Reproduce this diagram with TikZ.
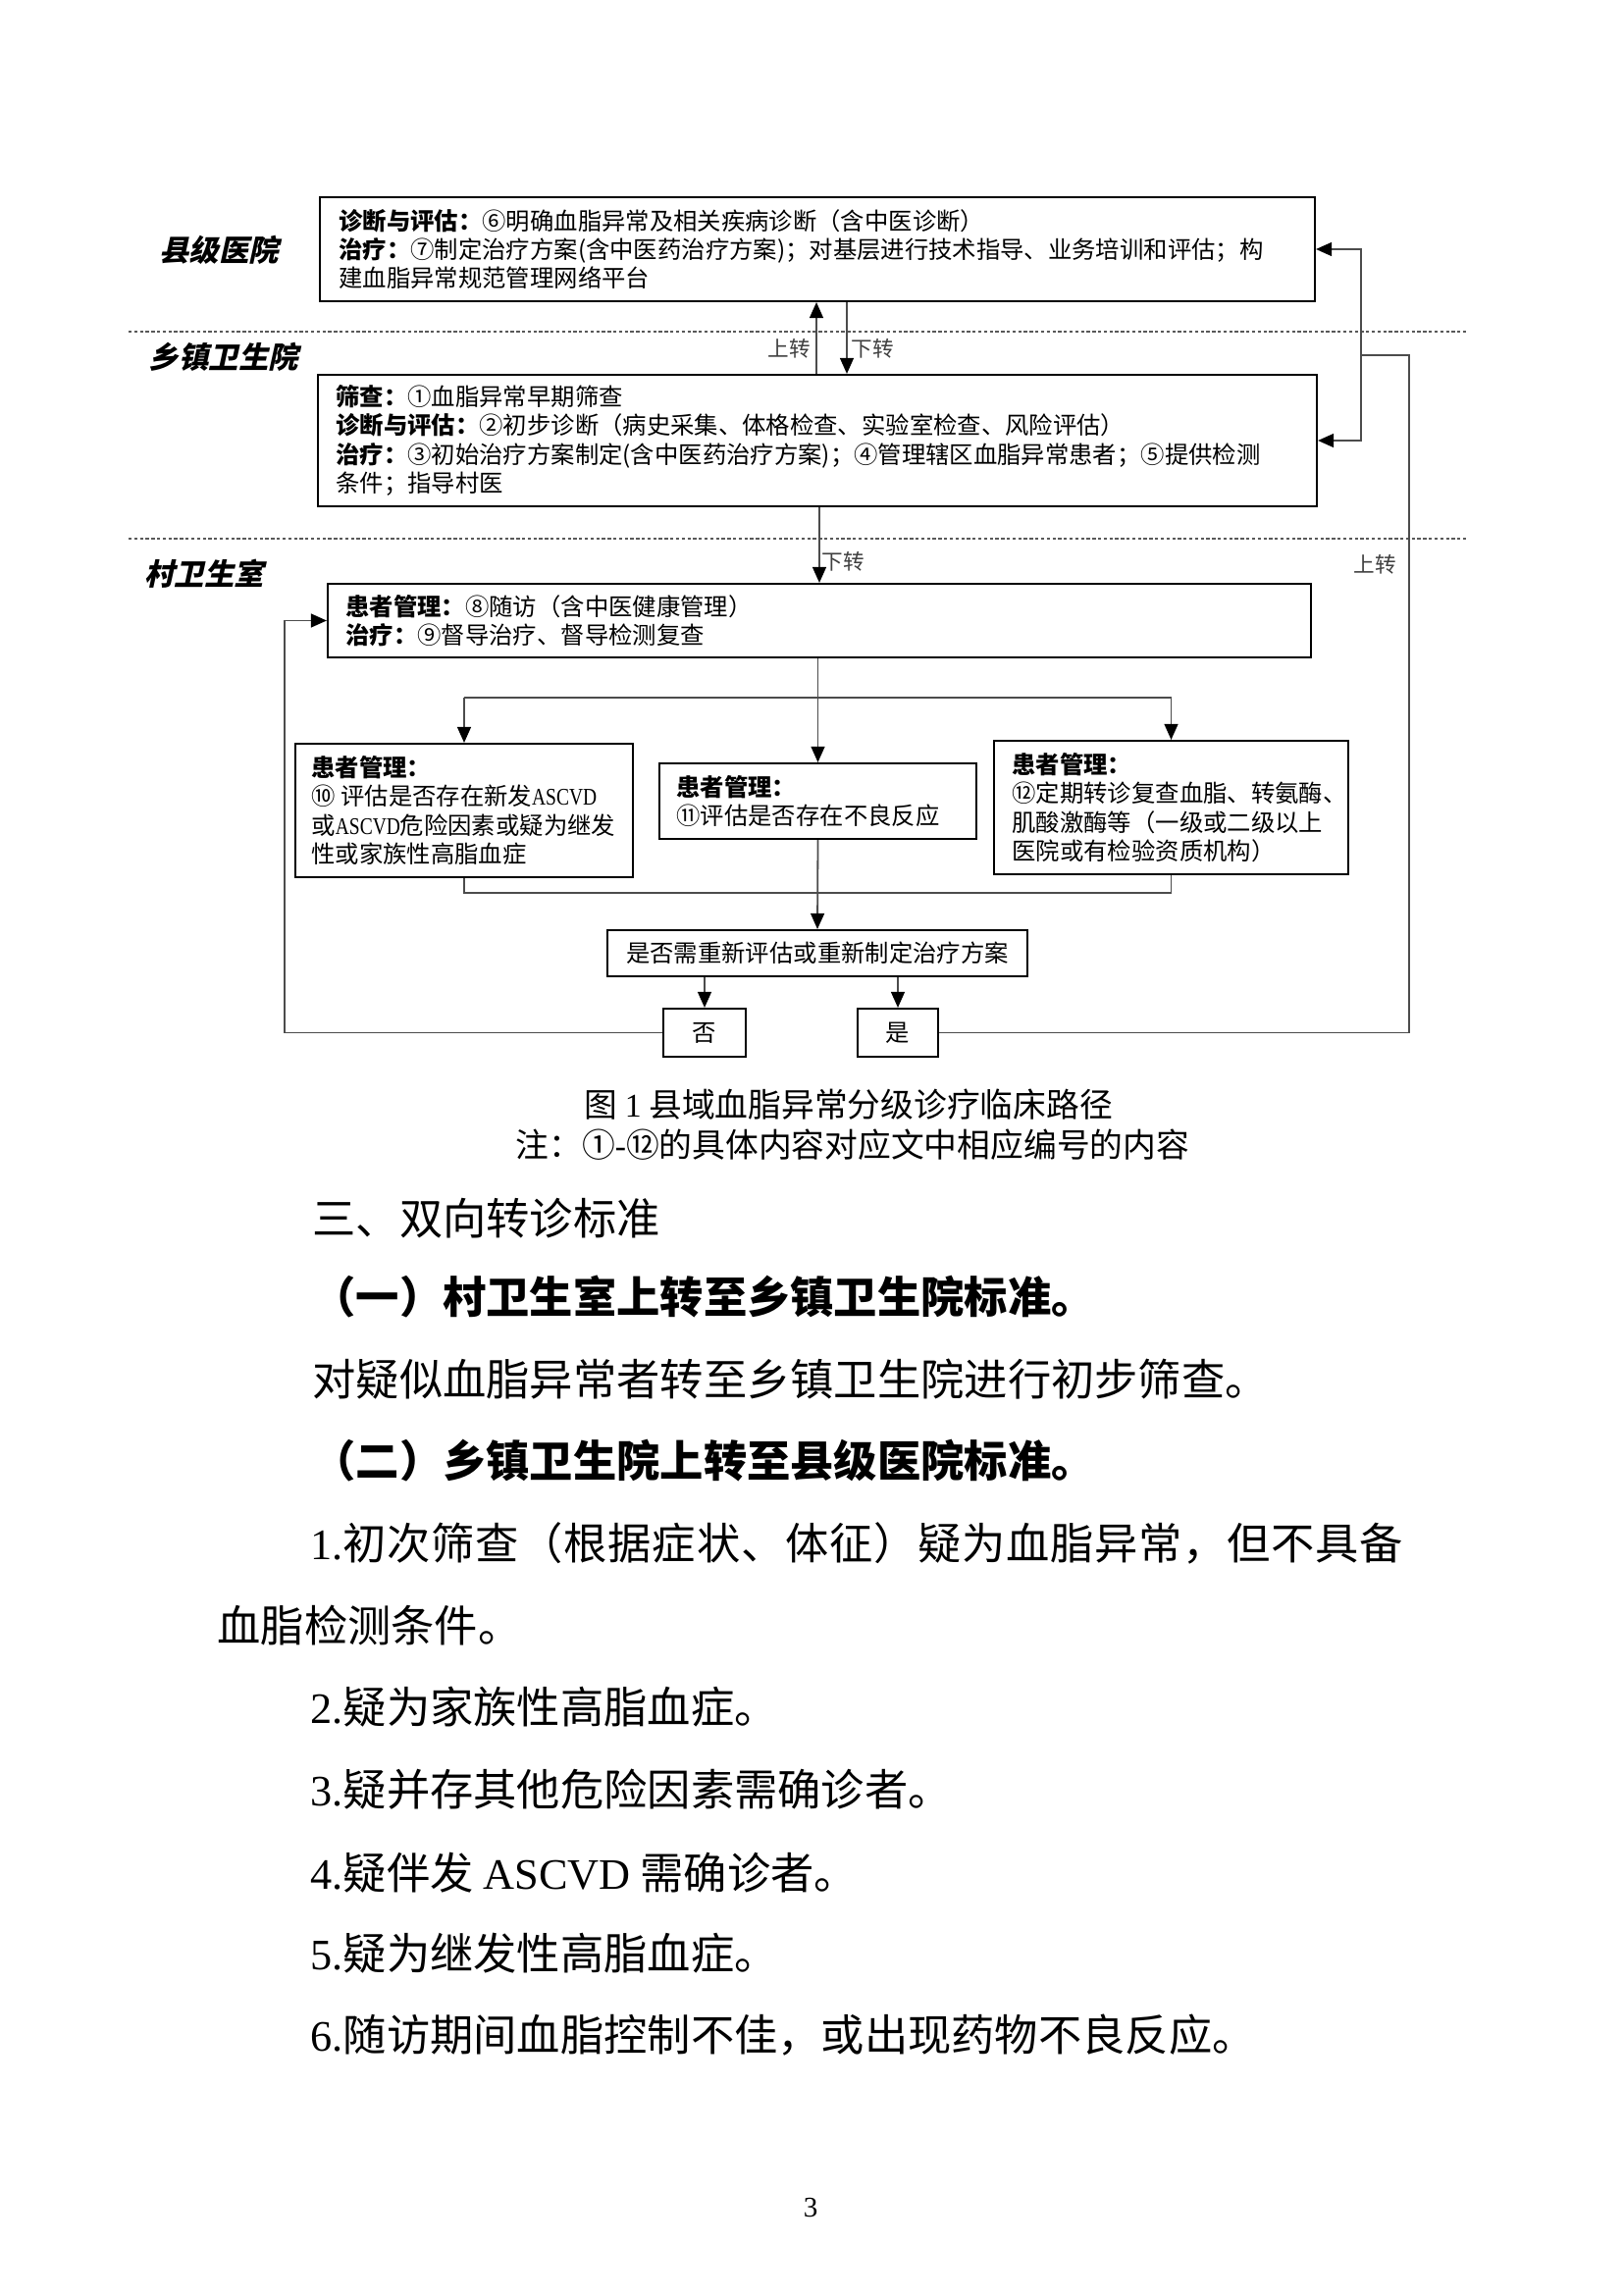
\documentclass[tikz,border=0pt]{standalone}
\usepackage{fontspec}
\usepackage{graphicx}
\setmainfont{Liberation Serif}
\newfontfamily\cjk{Noto Sans CJK SC}
\newfontfamily\cjksl{Noto Sans CJK SC}[FakeSlant=0.22]
\newfontfamily\latf{Liberation Serif}
\usetikzlibrary{arrows.meta}
\def\px{0.127mm}
\tikzset{
  box/.style={draw=black, line width=0.75pt, inner sep=0pt},
  cbox/.style={box, font=\cjk\fontsize{8.8pt}{10.6pt}\selectfont},
  boxtext/.style={anchor=west, align=left, inner sep=0pt, font=\cjk\fontsize{8.8pt}{10.6pt}\selectfont},
  conn/.style={draw=black!70, line width=0.65pt},
  arr/.style={conn, -{Triangle[length=5.8pt,width=5pt,color=black]}},
  sep/.style={draw=black!65, line width=0.55pt, dash pattern=on 1.2pt off 0.9pt},
  lvl/.style={inner sep=0pt, font=\cjksl\bfseries\fontsize{11pt}{13pt}\selectfont},
  tlab/.style={inner sep=0pt, text=black!75, font=\cjk\fontsize{7.8pt}{9pt}\selectfont},
  body/.style={anchor=west, inner sep=0pt, text height=0.88em, text depth=0.12em, font=\cjk\fontsize{16pt}{20pt}\selectfont},
  bodyb/.style={body, font=\cjk\bfseries\fontsize{16pt}{20pt}\selectfont},
  capt/.style={anchor=west, inner sep=0pt, text height=0.88em, text depth=0.12em, font=\cjk\fontsize{12.2pt}{14pt}\selectfont},
}
\begin{document}
\begin{tikzpicture}[x=0.127mm,y=-0.127mm]
\fill[white] (0,0) rectangle (1654,2339);
\useasboundingbox (0,0) rectangle (1654,2339);

% separators
\draw[sep] (131,338) -- (1496,338);
\draw[sep] (131,549) -- (1496,549);

% level labels
\node[lvl] (L1) at (223,255) {县级医院};
\node[lvl] (L2) at (228,364) {乡镇卫生院};
\node[lvl] (L3) at (208,585) {村卫生室};

% boxes
\node[box, minimum width=1014*\px, minimum height=106*\px] (b1) at (833,254) {};
\node[boxtext] (t1) at ([xshift=20*\px]b1.west) {{\bfseries 诊断与评估：}⑥明确血脂异常及相关疾病诊断（含中医诊断）\\{\bfseries 治疗：}⑦制定治疗方案(含中医药治疗方案)；对基层进行技术指导、业务培训和评估；构\\建血脂异常规范管理网络平台};

\node[box, minimum width=1018*\px, minimum height=134*\px] (b2) at (833,449) {};
\node[boxtext] (t2) at ([xshift=19*\px]b2.west) {{\bfseries 筛查：}①血脂异常早期筛查\\{\bfseries 诊断与评估：}②初步诊断（病史采集、体格检查、实验室检查、风险评估）\\{\bfseries 治疗：}③初始治疗方案制定(含中医药治疗方案)；④管理辖区血脂异常患者；⑤提供检测\\条件；指导村医};

\node[box, minimum width=1002*\px, minimum height=75*\px] (b3) at (835,632.5) {};
\node[boxtext] (t3) at ([xshift=19*\px]b3.west) {{\bfseries 患者管理：}⑧随访（含中医健康管理）\\{\bfseries 治疗：}⑨督导治疗、督导检测复查};

\node[box, minimum width=344*\px, minimum height=136*\px] (b10) at (473,826) {};
\node[boxtext] (t10) at ([xshift=17*\px]b10.west) {{\bfseries 患者管理：}\\⑩ 评估是否存在新发{\latf\scalebox{0.8}[1]{ASCVD}}\\或{\latf\scalebox{0.8}[1]{ASCVD}}危险因素或疑为继发\\性或家族性高脂血症};

\node[box, minimum width=323*\px, minimum height=77*\px] (b11) at (833.5,816.5) {};
\node[boxtext] (t11) at ([xshift=18*\px]b11.west) {{\bfseries 患者管理：}\\⑪评估是否存在不良反应};

\node[box, minimum width=361*\px, minimum height=136*\px] (b12) at (1193.5,823) {};
\node[boxtext] (t12) at ([xshift=19*\px]b12.west) {{\bfseries 患者管理：}\\⑫定期转诊复查血脂、转氨酶、\\肌酸激酶等（一级或二级以上\\医院或有检验资质机构）};

\node[cbox, minimum width=428*\px, minimum height=47*\px] (dec) at (833,971.5) {是否需重新评估或重新制定治疗方案};
\node[cbox, minimum width=84*\px, minimum height=49*\px] (no) at (718,1052.5) {否};
\node[cbox, minimum width=82*\px, minimum height=49*\px] (yes) at (915,1052.5) {是};

% helper coordinates
\coordinate (upx) at (832,0);
\coordinate (dnx) at (863,0);
\coordinate (br) at (833.5,711);
\coordinate (jn) at (833.5,910);
\coordinate (lx) at (290,0);
\coordinate (rx) at (1436,0);
\coordinate (ix) at (1387,0);
\coordinate (jy) at (0,362);

% connectors
\draw[arr] (b2.north -| upx) -- (b1.south -| upx);
\draw[arr] (b1.south -| dnx) -- (b2.north -| dnx);
\draw[arr] (b2.south -| b3.north) -- (b3.north);
\draw[arr] (b3.south -| b11.north) -- (b11.north);
\draw[conn] (b10.north |- br) -- (b12.north |- br);
\draw[arr] (b10.north |- br) -- (b10.north);
\draw[arr] (b12.north |- br) -- (b12.north);
\draw[conn] (b10.south) -- (b10.south |- jn) -- (b12.south |- jn) -- (b12.south);
\draw[arr] (b11.south) -- (dec.north);
\draw[arr] (dec.south -| no.north) -- (no.north);
\draw[arr] (dec.south -| yes.north) -- (yes.north);
\draw[arr] (no.west) -- (no.west -| lx) -- (lx |- b3.west) -- (b3.west);
\draw[conn] (yes.east) -- (yes.east -| rx) -- (rx |- jy) -- (ix |- jy);
\draw[arr] (ix |- jy) -- (ix |- b1.east) -- (b1.east);
\draw[arr] (ix |- jy) -- (ix |- b2.east) -- (b2.east);

% transfer labels
\node[tlab] (lu1) at (804,355) {上转};
\node[tlab] (ld1) at (889,355) {下转};
\node[tlab] (ld2) at (859,572) {下转};
\node[tlab] (lu2) at (1401,575) {上转};

% caption
\node[capt] (cap1) at (595,1128) {图 {\latf 1} 县域血脂异常分级诊疗临床路径};
\node[capt] (cap2) at (525,1169) {注：①{\latf -}⑫的具体内容对应文中相应编号的内容};

% body text
\node[body] (s3) at (318,1248) {三、双向转诊标准};
\node[bodyb] (s31) at (318,1328) {（一）村卫生室上转至乡镇卫生院标准。};
\node[body] (p0) at (318,1412) {对疑似血脂异常者转至乡镇卫生院进行初步筛查。};
\node[bodyb] (s32) at (318,1495) {（二）乡镇卫生院上转至县级医院标准。};
\node[body] (p1) at (316,1579) {\addfontfeature{LetterSpace=1.7}{\latf 1.}初次筛查（根据症状、体征）疑为血脂异常，但不具备};
\node[body] (p1b) at (221,1663) {血脂检测条件。};
\node[body] (p2) at (316,1746) {{\latf 2.}疑为家族性高脂血症。};
\node[body] (p3) at (316,1830) {{\latf 3.}疑并存其他危险因素需确诊者。};
\node[body] (p4) at (316,1915) {{\latf 4.}疑伴发 {\latf ASCVD} 需确诊者。};
\node[body] (p5) at (316,1997) {{\latf 5.}疑为继发性高脂血症。};
\node[body] (p6) at (316,2080) {{\latf 6.}随访期间血脂控制不佳，或出现药物不良反应。};

% page number
\node[inner sep=0pt, font=\latf\fontsize{10.5pt}{12pt}\selectfont] (pg) at (826,2250) {3};
\end{tikzpicture}
\end{document}
